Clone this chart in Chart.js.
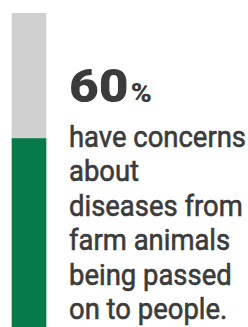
<!DOCTYPE html>
<html lang="en">
<head>
<meta charset="UTF-8">
<title>60% have concerns</title>
<style>
    body {
        margin: 0;
        background-color: white;
        width: 248px;
        height: 327px;
        overflow: hidden;
        position: relative;
        font-family: Roboto, Arial, sans-serif;
        color: #3b3b3b;
    }

    #chartcc {
        position: absolute;
        left: 0;
        top: 0;
        width: 58px;
        height: 327px;
    }

    #big {
        position: absolute;
        left: 69px;
        top: 62px;
        font-size: 47px;
        line-height: 47px;
        font-weight: 900;
        white-space: nowrap;
        transform-origin: left top;
    }

    #big span {
        font-size: 26px;
        margin-left: 2px;
    }

    #caption {
        position: absolute;
        left: 69px;
        top: 120px;
        font-size: 29.5px;
        line-height: 34.4px;
        font-weight: 400;
        -webkit-text-stroke: 0.6px #3b3b3b;
        white-space: nowrap;
        transform-origin: left top;
    }
</style>
</head>
<body>
    <div id="chartcc">
        <canvas id="share-chart" width="58" height="327"></canvas>
    </div>
    <div id="big"></div>
    <div id="caption"></div>
    <script src="https://cdn.jsdelivr.net/npm/chart.js"></script>
    <script>
        const categories = ['Concerned'];
        const concernedValues = [60];
        const restValues = [40];
        const captionLines = ['have concerns', 'about', 'diseases from', 'farm animals', 'being passed', 'on to people.'];

        const big = document.getElementById('big');
        big.innerHTML = concernedValues[0] + '<span>%</span>';
        const caption = document.getElementById('caption');
        caption.innerHTML = captionLines.map(l => '<div><span>' + l + '</span></div>').join('');

        // squeeze the text to the widths seen in the picture
        const bigW = big.getBoundingClientRect().width;
        big.style.transform = 'scaleX(' + (83 / bigW) + ')';
        const firstW = caption.querySelector('span').getBoundingClientRect().width;
        caption.style.transform = 'scaleX(' + (177 / firstW) + ')';

        const ctx = document.getElementById('share-chart').getContext('2d');
        const shareChart = new Chart(ctx, {
            type: 'bar',
            data: {
                labels: categories,
                datasets: [{
                    label: 'Have concerns',
                    data: concernedValues,
                    backgroundColor: '#077a4b',
                    borderWidth: 0,
                    barThickness: 34
                }, {
                    label: 'Rest',
                    data: restValues,
                    backgroundColor: '#cfd0cf',
                    borderWidth: 0,
                    barThickness: 34
                }]
            },
            options: {
                responsive: false,
                animation: false,
                layout: { padding: { top: 13, bottom: 0, left: 0, right: 0 } },
                plugins: {
                    legend: { display: false },
                    tooltip: { enabled: false }
                },
                scales: {
                    x: { display: false, stacked: true },
                    y: { display: false, stacked: true, min: 0, max: 100 }
                }
            }
        });
    </script>
</body>
</html>
